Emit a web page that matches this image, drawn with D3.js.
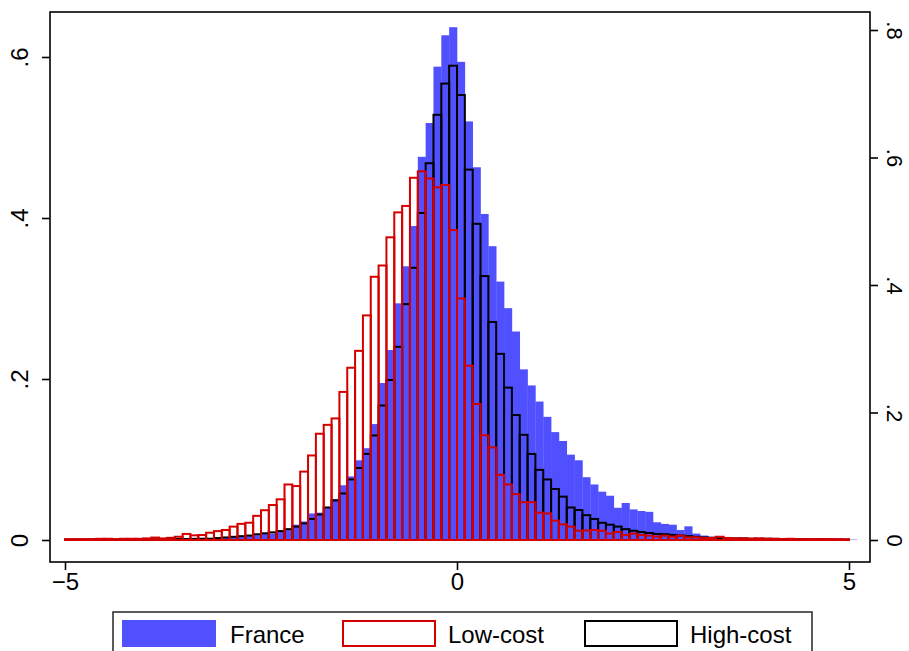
<!DOCTYPE html>
<html>
<head>
<meta charset="utf-8">
<script src="https://cdn.jsdelivr.net/npm/d3@7/dist/d3.min.js"></script>
<style>
  html, body { margin: 0; padding: 0; background: #fff; }
  svg { display: block; }
  text { font-family: "Liberation Sans", Arial, Helvetica, sans-serif; fill: #000; }
</style>
</head>
<body>
<svg id="chart" width="909" height="651"></svg>
<script>
// Histogram bins: width 0.1, left edges from -5
const binStart = -5;
const binWidth = 0.1;

// France (left axis density), bins -5.0 ... 5.0
const france = [
  0.0005, 0.0005, 0.0005, 0.0005, 0.0006, 0.0006, 0.0007, 0.0007, 0.0008, 0.0008,
  0.0010, 0.0010, 0.0011, 0.0012, 0.0012, 0.0015, 0.0015, 0.0018, 0.0020, 0.0025,
  0.0030, 0.0037, 0.0040, 0.0050, 0.0060, 0.0075, 0.0080, 0.0100, 0.0130, 0.0190,
  0.0230, 0.0330, 0.0340, 0.0410, 0.0510, 0.0680, 0.0790, 0.0990, 0.1140, 0.1440,
  0.1950, 0.2360, 0.2940, 0.3400, 0.3900, 0.4760, 0.5180, 0.5880, 0.6270, 0.6370,
  0.5940, 0.5200, 0.4630, 0.4050, 0.3650, 0.3210, 0.2880, 0.2590, 0.2120, 0.1920,
  0.1720, 0.1530, 0.1340, 0.1230, 0.1060, 0.0990, 0.0780, 0.0690, 0.0600, 0.0550,
  0.0400, 0.0460, 0.0380, 0.0360, 0.0350, 0.0220, 0.0200, 0.0190, 0.0124, 0.0170,
  0.0080, 0.0055, 0.0040, 0.0030, 0.0027, 0.0020, 0.0020, 0.0015, 0.0015, 0.0012,
  0.0010, 0.0010, 0.0010, 0.0008, 0.0008, 0.0007, 0.0006, 0.0006, 0.0005, 0.0005,
  0.0005
];

// Low-cost (right axis density), bins -5.0 ... 4.9
const lowCost = [
  0.0013, 0.0013, 0.0013, 0.0015, 0.0019, 0.0019, 0.0013, 0.0019, 0.0019, 0.0019,
  0.0025, 0.0038, 0.0025, 0.0034, 0.0051, 0.0095, 0.0073, 0.0078, 0.0114, 0.0139,
  0.0157, 0.0210, 0.0253, 0.0271, 0.0379, 0.0467, 0.0549, 0.0638, 0.0871, 0.0846,
  0.1073, 0.1326, 0.1667, 0.1806, 0.1907, 0.2323, 0.2702, 0.2967, 0.3523, 0.4129,
  0.4306, 0.4748, 0.5139, 0.5240, 0.5682, 0.5783, 0.5670, 0.5531, 0.5569, 0.4861,
  0.3788, 0.2734, 0.2134, 0.1642, 0.1452, 0.1023, 0.0871, 0.0720, 0.0593, 0.0593,
  0.0429, 0.0417, 0.0303, 0.0246, 0.0210, 0.0146, 0.0149, 0.0157, 0.0146, 0.0101,
  0.0126, 0.0078, 0.0100, 0.0078, 0.0068, 0.0052, 0.0068, 0.0052, 0.0068, 0.0042,
  0.0042, 0.0032, 0.0032, 0.0051, 0.0032, 0.0025, 0.0025, 0.0021, 0.0025, 0.0019,
  0.0019, 0.0015, 0.0019, 0.0013, 0.0015, 0.0013, 0.0015, 0.0013, 0.0013, 0.0010
];

// High-cost (right axis density), bins -5.0 ... 4.9
const highCost = [
  0.0008, 0.0008, 0.0008, 0.0008, 0.0009, 0.0009, 0.0009, 0.0010, 0.0010, 0.0010,
  0.0010, 0.0010, 0.0012, 0.0012, 0.0015, 0.0015, 0.0018, 0.0020, 0.0020, 0.0030,
  0.0040, 0.0050, 0.0060, 0.0070, 0.0090, 0.0105, 0.0120, 0.0140, 0.0170, 0.0210,
  0.0260, 0.0330, 0.0400, 0.0510, 0.0620, 0.0730, 0.0950, 0.1130, 0.1350, 0.1640,
  0.2110, 0.2510, 0.3030, 0.3700, 0.4270, 0.5130, 0.5910, 0.6670, 0.7160, 0.7440,
  0.6980, 0.5810, 0.4960, 0.4140, 0.3420, 0.2920, 0.2390, 0.1960, 0.1650, 0.1350,
  0.1100, 0.0950, 0.0800, 0.0680, 0.0510, 0.0470, 0.0390, 0.0330, 0.0270, 0.0240,
  0.0210, 0.0170, 0.0145, 0.0125, 0.0110, 0.0095, 0.0090, 0.0080, 0.0070, 0.0060,
  0.0050, 0.0040, 0.0035, 0.0030, 0.0030, 0.0025, 0.0025, 0.0020, 0.0020, 0.0020,
  0.0018, 0.0015, 0.0015, 0.0013, 0.0012, 0.0010, 0.0010, 0.0010, 0.0008, 0.0008
];

const xTicks = [-5, 0, 5];
const yLeftTicks = [0, 0.2, 0.4, 0.6];
const yRightTicks = [0, 0.2, 0.4, 0.6, 0.8];
const seriesNames = ["France", "Low-cost", "High-cost"];

const colFrance = "#5050ff";
const colLow = "#d40000";
const colHigh = "#000000";

const svg = d3.select("#chart");

// Frame of the plot region
const frame = { left: 50, right: 870, top: 12, bottom: 562 };

const x = d3.scaleLinear().domain([-5, 5]).range([65, 849]);
const yL = d3.scaleLinear().domain([0, 0.6]).range([540, 57]);
const yR = d3.scaleLinear().domain([0, 0.8]).range([540, 30]);

const toBins = arr => arr.map((v, i) => ({
  x0: binStart + i * binWidth,
  x1: binStart + (i + 1) * binWidth,
  v
}));

// France: filled bars
svg.append("g")
  .selectAll("rect")
  .data(toBins(france))
  .join("rect")
  .attr("x", d => x(d.x0))
  .attr("width", d => x(d.x1) - x(d.x0) + 0.3)
  .attr("y", d => yL(d.v))
  .attr("height", d => yL(0) - yL(d.v))
  .attr("fill", colFrance)
  .attr("stroke", "none");

// High-cost: outlined bars
svg.append("g")
  .selectAll("rect")
  .data(toBins(highCost))
  .join("rect")
  .attr("x", d => x(d.x0))
  .attr("width", d => x(d.x1) - x(d.x0))
  .attr("y", d => yR(d.v))
  .attr("height", d => yR(0) - yR(d.v))
  .attr("fill", "none")
  .attr("stroke", colHigh)
  .attr("stroke-width", 2);

// Low-cost: outlined bars, drawn on top
svg.append("g")
  .selectAll("rect")
  .data(toBins(lowCost))
  .join("rect")
  .attr("x", d => x(d.x0))
  .attr("width", d => x(d.x1) - x(d.x0))
  .attr("y", d => yR(d.v))
  .attr("height", d => yR(0) - yR(d.v))
  .attr("fill", "none")
  .attr("stroke", colLow)
  .attr("stroke-width", 2);

// Plot frame
svg.append("rect")
  .attr("x", frame.left)
  .attr("y", frame.top)
  .attr("width", frame.right - frame.left)
  .attr("height", frame.bottom - frame.top)
  .attr("fill", "none")
  .attr("stroke", "#000")
  .attr("stroke-width", 1.6);

const fmt = v => v === 0 ? "0" : d3.format(".1f")(v).replace(/^0/, "");

// Left axis
const gL = svg.append("g").attr("transform", `translate(${frame.left},0)`);
gL.call(d3.axisLeft(yL).tickValues(yLeftTicks).tickSize(8).tickFormat(""));
gL.select(".domain").remove();
gL.selectAll(".tick line").attr("stroke", "#000").attr("stroke-width", 1.6);
gL.selectAll(".tick").append("text")
  .attr("transform", "translate(-22,0) rotate(-90)")
  .attr("text-anchor", "middle")
  .attr("font-size", 24)
  .text(d => fmt(d));

// Right axis
const gR = svg.append("g").attr("transform", `translate(${frame.right},0)`);
gR.call(d3.axisRight(yR).tickValues(yRightTicks).tickSize(8).tickFormat(""));
gR.select(".domain").remove();
gR.selectAll(".tick line").attr("stroke", "#000").attr("stroke-width", 1.6);
gR.selectAll(".tick").append("text")
  .attr("transform", "translate(17,0) rotate(90)")
  .attr("text-anchor", "middle")
  .attr("font-size", 22)
  .text(d => fmt(d));

// Bottom axis
const gB = svg.append("g").attr("transform", `translate(0,${frame.bottom})`);
gB.call(d3.axisBottom(x).tickValues(xTicks).tickSize(8).tickFormat(""));
gB.select(".domain").remove();
gB.selectAll(".tick line").attr("stroke", "#000").attr("stroke-width", 1.6);
gB.selectAll(".tick").append("text")
  .attr("y", 28)
  .attr("text-anchor", "middle")
  .attr("font-size", 24)
  .text(d => d3.format("d")(d));

// Legend
const legend = svg.append("g");
legend.append("rect")
  .attr("x", 113).attr("y", 612)
  .attr("width", 699).attr("height", 60)
  .attr("fill", "#fff")
  .attr("stroke", "#333").attr("stroke-width", 1.6);

const legendItems = [
  { name: seriesNames[0], sx: 123, tx: 230, fill: colFrance, stroke: colFrance },
  { name: seriesNames[1], sx: 343, tx: 448, fill: "#fff", stroke: colLow },
  { name: seriesNames[2], sx: 585, tx: 690, fill: "#fff", stroke: colHigh }
];
const li = legend.selectAll("g.item").data(legendItems).join("g").attr("class", "item");
li.append("rect")
  .attr("x", d => d.sx).attr("y", 621)
  .attr("width", 92).attr("height", 25)
  .attr("fill", d => d.fill)
  .attr("stroke", d => d.stroke)
  .attr("stroke-width", 2);
li.append("text")
  .attr("x", d => d.tx).attr("y", 643)
  .attr("font-size", 24)
  .text(d => d.name);
</script>
</body>
</html>
